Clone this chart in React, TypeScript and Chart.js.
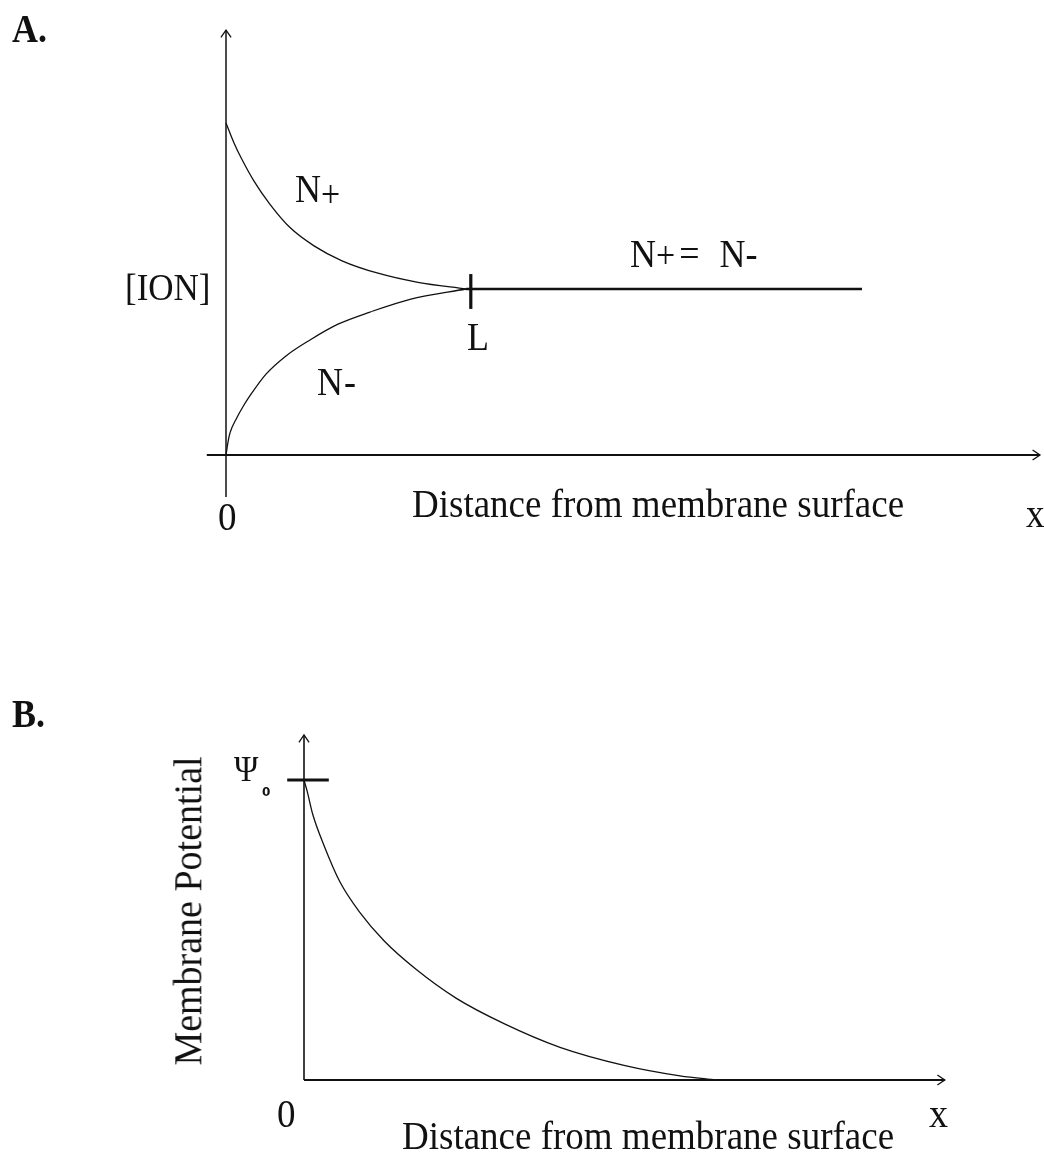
import React, { useEffect, useRef } from "react";
import { Chart, registerables } from "chart.js";

Chart.register(...registerables);

// ---------- Panel A data (x: distance, y: ion concentration, [ION] = 1) ----------
const nPlusX = [0, 0.1, 0.2, 0.35, 0.55, 0.8, 1.1, 1.45, 1.9, 2.4, 3.0];
const nPlusY = [2.0, 1.88, 1.78, 1.65, 1.51, 1.37, 1.26, 1.17, 1.095, 1.04, 1.0];
const nMinusX = [0, 0.025, 0.05, 0.134, 0.21, 0.3, 0.5, 0.75, 1.05, 1.4, 1.8, 2.3, 3.0];
const nMinusY = [0, 0.078, 0.133, 0.223, 0.289, 0.357, 0.487, 0.597, 0.693, 0.788, 0.861, 0.938, 1.0];
const equalX = [3.0, 7.95];
const equalY = [1, 1];
const lTickX = [3.06, 3.06];
const lTickY = [0.88, 1.09];
const axisAX = [-0.24, 10.175];
const axisAY = [-0.253, 2.56];

// ---------- Panel B data (x: distance, y: potential, Psi0 = 1) ----------
const psiX = [0, 0.04, 0.11, 0.25, 0.45, 0.7, 1.0, 1.4, 1.9, 2.5, 3.2, 4.0, 4.7, 5.15];
const psiY = [1.0, 0.962, 0.885, 0.782, 0.66, 0.558, 0.464, 0.369, 0.273, 0.188, 0.109, 0.049, 0.014, 0.0];
const psiTickX = [-0.21, 0.31];
const psiTickY = [1, 1];
const axisBX = [0, 8.01];
const axisBY = [0, 1.15];

const INK = "#111111";
const SERIF = "'Liberation Serif', 'Times New Roman', serif";

type Pt = { x: number; y: number };
const zip = (xs: number[], ys: number[]): Pt[] => xs.map((x, i) => ({ x, y: ys[i] }));

type Arrow = { x: number; y: number; dir: "up" | "right" };

const line = (data: Pt[], width: number, smooth = false) => ({
  data,
  borderColor: INK,
  borderWidth: width,
  pointRadius: 0,
  fill: false,
  tension: smooth ? 0.4 : 0,
  cubicInterpolationMode: smooth ? ("monotone" as const) : ("default" as const),
  borderCapStyle: "butt" as const,
});

function makeArrowPlugin(arrows: Arrow[]) {
  return {
    id: "axisArrows",
    afterDatasetsDraw(chart: any) {
      const { ctx, scales } = chart;
      ctx.save();
      ctx.strokeStyle = INK;
      ctx.lineWidth = 1.3;
      arrows.forEach((a) => {
        const px = scales.x.getPixelForValue(a.x);
        const py = scales.y.getPixelForValue(a.y);
        const ang = a.dir === "up" ? -Math.PI / 2 : 0;
        const len = 9;
        const spread = 0.6;
        ctx.beginPath();
        ctx.moveTo(px - len * Math.cos(ang - spread), py - len * Math.sin(ang - spread));
        ctx.lineTo(px, py);
        ctx.lineTo(px - len * Math.cos(ang + spread), py - len * Math.sin(ang + spread));
        ctx.stroke();
      });
      ctx.restore();
    },
  };
}

type PanelProps = {
  top: number;
  height: number;
  xMin: number;
  xMax: number;
  yMin: number;
  yMax: number;
  datasets: any[];
  arrows: Arrow[];
};

function Panel({ top, height, xMin, xMax, yMin, yMax, datasets, arrows }: PanelProps) {
  const ref = useRef<HTMLCanvasElement>(null);
  useEffect(() => {
    if (!ref.current) return;
    const chart = new Chart(ref.current, {
      type: "line",
      data: { datasets },
      options: {
        animation: false,
        responsive: false,
        devicePixelRatio: 1,
        events: [],
        layout: { padding: 0 },
        plugins: { legend: { display: false }, tooltip: { enabled: false }, title: { display: false } },
        scales: {
          x: { type: "linear", min: xMin, max: xMax, display: false },
          y: { type: "linear", min: yMin, max: yMax, display: false },
        },
      },
      plugins: [makeArrowPlugin(arrows)],
    } as any);
    return () => chart.destroy();
  }, []);
  return (
    <canvas
      ref={ref}
      width={1044}
      height={height}
      style={{ position: "absolute", left: 0, top, width: 1044, height }}
    />
  );
}

type LabelProps = {
  x: number;
  base: number;
  size: number;
  bold?: boolean;
  children: React.ReactNode;
  family?: string;
  stretch?: number;
};

function Label({ x, base, size, bold, children, family = SERIF, stretch = 1.1 }: LabelProps) {
  const b = 0.8375 * size;
  return (
    <div
      style={{
        position: "absolute",
        left: x,
        top: base - b,
        fontSize: size,
        lineHeight: `${size}px`,
        height: size,
        fontFamily: family,
        fontWeight: bold ? 700 : 400,
        whiteSpace: "nowrap",
        color: INK,
        transform: `scaleY(${stretch})`,
        transformOrigin: `0 ${b}px`,
      }}
    >
      {children}
    </div>
  );
}

const Sub = ({ children, size, drop, ml = 0 }: { children: React.ReactNode; size: number; drop: number; ml?: number }) => (
  <span style={{ fontSize: size, lineHeight: 0, position: "relative", top: drop, marginLeft: ml }}>{children}</span>
);

export default function App() {
  // Panel A pixel mapping: x=0 -> 226px, 80px/unit ; y=0 -> 455px, 166px/unit
  const aXMin = -226 / 80;
  const aXMax = (1044 - 226) / 80;
  const aYMax = 455 / 166;
  const aYMin = (455 - 560) / 166;

  // Panel B (canvas top 560): x=0 -> 304px, 80px/unit ; y=0 -> 1080px, 300px/unit
  const bXMin = -304 / 80;
  const bXMax = (1044 - 304) / 80;
  const bYMax = (1080 - 560) / 300;
  const bYMin = (1080 - 1152) / 300;

  const datasetsA = [
    line(zip([0, 0], axisAY), 1.5),
    line(zip(axisAX, [0, 0]), 2),
    line(zip(nPlusX, nPlusY), 1.3, true),
    line(zip(nMinusX, nMinusY), 1.3, true),
    line(zip(equalX, equalY), 2.6),
    line(zip(lTickX, lTickY), 3.2),
  ];
  const arrowsA: Arrow[] = [
    { x: 0, y: axisAY[1], dir: "up" },
    { x: axisAX[1], y: 0, dir: "right" },
  ];

  const datasetsB = [
    line(zip([0, 0], axisBY), 1.6),
    line(zip(axisBX, [0, 0]), 2),
    line(zip(psiTickX, psiTickY), 3),
    line(zip(psiX, psiY), 1.3, true),
  ];
  const arrowsB: Arrow[] = [
    { x: 0, y: axisBY[1], dir: "up" },
    { x: axisBX[1], y: 0, dir: "right" },
  ];

  const mpSize = 38;
  const mpCx = 200 - 0.3375 * mpSize;
  const mpCy = 911;
  const mpW = 420;

  return (
    <div
      style={{
        position: "absolute",
        left: 0,
        top: 0,
        width: 1044,
        height: 1152,
        background: "#ffffff",
        overflow: "hidden",
      }}
    >
      <Panel top={0} height={560} xMin={aXMin} xMax={aXMax} yMin={aYMin} yMax={aYMax} datasets={datasetsA} arrows={arrowsA} />
      <Panel top={560} height={592} xMin={bXMin} xMax={bXMax} yMin={bYMin} yMax={bYMax} datasets={datasetsB} arrows={arrowsB} />

      {/* Panel A labels */}
      <Label x={12} base={42} size={36} bold>A.</Label>
      <Label x={125} base={300} size={35}>[ION]</Label>
      <Label x={295} base={202} size={36}>
        N<Sub size={34} drop={5}>+</Sub>
      </Label>
      <Label x={630} base={267} size={36}>
        N<Sub size={34} drop={1}>+</Sub>
        <span style={{ marginLeft: 4 }}>=</span>
        <span style={{ marginLeft: 20 }}>N</span>
        <span>-</span>
      </Label>
      <Label x={467} base={350} size={36}>L</Label>
      <Label x={317} base={395} size={36}>
        N<span style={{ marginLeft: 1 }}>-</span>
      </Label>
      <Label x={218} base={530} size={37}>0</Label>
      <Label x={412} base={517} size={37}>Distance from membrane surface</Label>
      <Label x={1026} base={527} size={37}>x</Label>

      {/* Panel B labels */}
      <Label x={12} base={727} size={36} bold>B.</Label>
      <Label x={234} base={782} size={33}>Ψ</Label>
      <Label x={262} base={796} size={12} bold family="'DejaVu Sans', sans-serif" stretch={1}>0</Label>
      <div
        style={{
          position: "absolute",
          left: mpCx - mpW / 2,
          top: mpCy - mpSize / 2,
          width: mpW,
          height: mpSize,
          lineHeight: `${mpSize}px`,
          fontSize: mpSize,
          fontFamily: SERIF,
          textAlign: "center",
          whiteSpace: "nowrap",
          color: INK,
          transform: "rotate(-90deg) scaleY(1.08)",
          transformOrigin: "50% 50%",
        }}
      >
        Membrane Potential
      </div>
      <Label x={277} base={1127} size={37}>0</Label>
      <Label x={402} base={1149} size={37}>Distance from membrane surface</Label>
      <Label x={929} base={1127} size={38}>x</Label>
    </div>
  );
}
